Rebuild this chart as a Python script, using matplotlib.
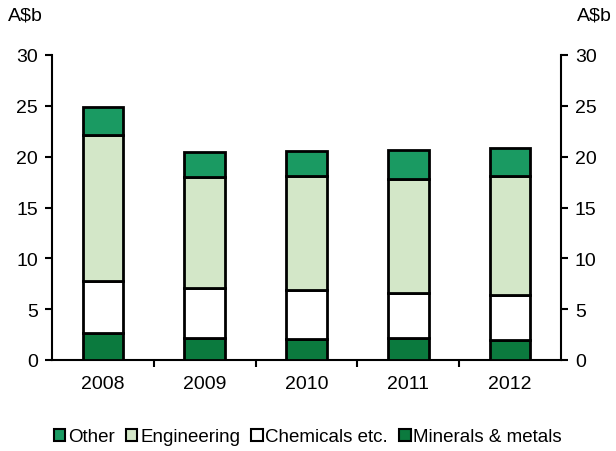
import matplotlib
matplotlib.use("Agg")
import matplotlib.pyplot as plt
import numpy as np
from matplotlib.patches import Patch

years = ["2008", "2009", "2010", "2011", "2012"]
minerals = [2.7, 2.15, 2.1, 2.15, 1.95]
chemicals = [5.1, 4.9, 4.8, 4.45, 4.45]
engineering = [14.3, 10.95, 11.2, 11.25, 11.7]
other = [2.8, 2.5, 2.5, 2.85, 2.8]

series = [
    ("Minerals & metals", minerals, "#0b7a3e"),
    ("Chemicals etc.", chemicals, "#ffffff"),
    ("Engineering", engineering, "#d3e7c8"),
    ("Other", other, "#1a9a62"),
]

plt.rcParams['font.family'] = ['Liberation Sans', 'DejaVu Sans']
fig = plt.figure(figsize=(6.16, 4.52), dpi=100)
ax = fig.add_axes([52/616, 1-361/452, 509/616, 305/452])

x = np.arange(len(years))
bottom = np.zeros(len(years))
for name, vals, col in series:
    ax.bar(x, vals, 0.4, bottom=bottom, color=col, edgecolor="black", linewidth=2, zorder=3)
    bottom += np.array(vals)

ax.set_xlim(-0.5, 4.5)
ax.set_ylim(0, 30)
ax.set_yticks(range(0, 31, 5))
ax.tick_params(axis='y', labelsize=14, direction='out', length=5, width=1.5, left=True, right=True, labelleft=True, labelright=True, pad=5)
ax.set_xticks(x)
ax.set_xticklabels(years, fontsize=14)
ax.tick_params(axis='x', which='major', length=0, pad=11)
ax.set_xticks(np.arange(0.5, 4.5, 1), minor=True)
ax.tick_params(axis='x', which='minor', length=5, width=1.5, direction='out')
ax.spines['top'].set_visible(False)
for s in ['left', 'right', 'bottom']:
    ax.spines[s].set_linewidth(1.5)

fig.text(8/616, 1-16/452, "A$b", fontsize=14, ha='left', va='center')
fig.text(612/616, 1-16/452, "A$b", fontsize=14, ha='right', va='center')

order = ["Other", "Engineering", "Chemicals etc.", "Minerals & metals"]
cols = {n: c for n, _, c in series}
leg_handles = [Patch(facecolor=cols[n], edgecolor='black', linewidth=1.5) for n in order]
fig.legend(leg_handles, order, loc='center', bbox_to_anchor=(0.5, 1-438/452), ncol=4,
           frameon=False, fontsize=13.5, handlelength=0.6, handleheight=0.6,
           handletextpad=0.15, columnspacing=0.6)

fig.savefig("out.png", dpi=100)
